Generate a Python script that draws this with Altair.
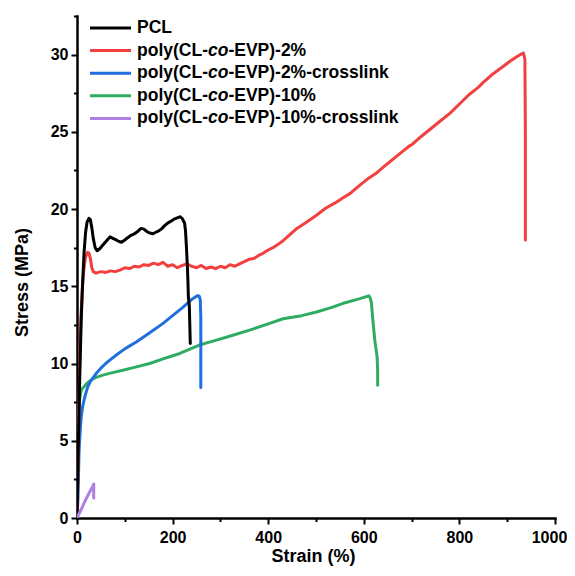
import altair as alt
import pandas as pd

# ---------------- data ----------------
pcl_strain = [0, 3, 6, 9, 12, 15, 18, 21, 25, 28, 31, 34, 38, 42, 48, 55, 62, 69, 75, 82, 88, 93,
              100, 106, 113, 120, 127, 134, 140, 146, 152, 159, 165, 172, 178, 184, 190, 196, 203,
              211, 216, 220, 225, 227, 229, 231, 232, 233, 234, 235, 236, 237]
pcl_stress = [0, 5, 9.5, 13, 15.4, 17.3, 18.5, 19.15, 19.4, 19.3, 18.8, 18.1, 17.5, 17.3, 17.45,
              17.7, 17.95, 18.2, 18.1, 18.0, 17.9, 17.85, 18.0, 18.15, 18.3, 18.4, 18.55, 18.75,
              18.7, 18.55, 18.45, 18.4, 18.5, 18.6, 18.75, 18.95, 19.1, 19.2, 19.35, 19.45, 19.5,
              19.4, 19.1, 18.6, 17.5, 16.2, 15.4, 14.3, 14.0, 13.7, 12.5, 11.3]

cl2_strain = [0, 2, 4, 6, 8, 11, 14, 18, 22, 25, 28, 31, 34, 40, 50, 60, 70, 80, 90, 100, 110,
              120, 130, 140, 150, 160, 170, 180, 190, 200, 210, 220, 230, 240, 250, 260, 270,
              280, 290, 300, 310, 320, 330, 340, 350, 360, 370, 380, 390, 400, 410, 420, 431,
              440, 460, 480, 501, 520, 540, 560, 571, 590, 610, 625, 640, 660, 680, 696, 700,
              720, 740, 760, 780, 800, 820, 840, 850, 870, 890, 905, 920, 930, 934, 937, 938, 938]
cl2_stress = [0, 3, 7, 10.5, 12.8, 14.8, 16.0, 16.9, 17.2, 17.15, 16.8, 16.2, 15.95, 15.85,
              15.95, 15.9, 16.0, 15.95, 16.05, 16.2, 16.15, 16.3, 16.25, 16.4, 16.35, 16.5,
              16.4, 16.55, 16.3, 16.4, 16.2, 16.35, 16.45, 16.3, 16.2, 16.35, 16.15, 16.25,
              16.15, 16.3, 16.2, 16.4, 16.3, 16.45, 16.6, 16.75, 16.8, 17.0, 17.15, 17.35,
              17.5, 17.7, 17.95, 18.2, 18.75, 19.15, 19.6, 20.05, 20.4, 20.8, 21.0, 21.5, 22.0,
              22.3, 22.7, 23.2, 23.7, 24.1, 24.15, 24.7, 25.2, 25.7, 26.2, 26.8, 27.4, 27.9,
              28.2, 28.75, 29.2, 29.55, 29.86, 30.05, 30.1, 29.7, 25.0, 18.0]

cl2x_strain = [0, 2, 3, 4, 5, 7, 9, 12, 16, 22, 28, 33, 40, 50, 60, 68, 80, 100, 124, 150, 180,
               200, 222, 242, 250, 253, 256, 258, 259, 259]
cl2x_stress = [0, 1.2, 2.5, 4.0, 4.8, 5.8, 6.6, 7.25, 7.8, 8.45, 8.85, 9.05, 9.35, 9.7, 10.0,
               10.2, 10.5, 10.95, 11.4, 11.95, 12.6, 13.1, 13.65, 14.2, 14.35, 14.4, 14.35,
               14.1, 13.0, 8.45]

cl10_strain = [0, 1, 2, 3, 4, 6, 9, 13, 16, 20, 26, 33, 40, 54, 70, 96, 120, 152, 180, 215,
               256, 290, 326, 361, 403, 431, 470, 501, 530, 557, 592, 605, 611, 614, 616, 619,
               623, 628, 629, 629]
cl10_stress = [0, 2.0, 4.6, 6.0, 7.0, 7.8, 8.27, 8.45, 8.55, 8.7, 8.85, 9.0, 9.1, 9.25, 9.38,
               9.57, 9.75, 10.0, 10.3, 10.65, 11.2, 11.5, 11.83, 12.16, 12.6, 12.9, 13.1,
               13.34, 13.6, 13.9, 14.2, 14.33, 14.38, 14.2, 13.9, 12.8, 11.5, 10.4, 9.5, 8.6]

cl10x_strain = [0, 8, 16, 25, 34, 35, 35]
cl10x_stress = [0, 0.5, 1.04, 1.6, 2.1, 2.2, 1.3]

series_names = ["PCL", "poly(CL-co-EVP)-2%", "poly(CL-co-EVP)-2%-crosslink",
                "poly(CL-co-EVP)-10%", "poly(CL-co-EVP)-10%-crosslink"]
legend_tails = ["", "-EVP)-2%", "-EVP)-2%-crosslink", "-EVP)-10%", "-EVP)-10%-crosslink"]
series_colors = ["#000000", "#F23F3F", "#1F6FDF", "#2EAD62", "#B07FE4"]

x_ticks = [0, 100, 200, 300, 400, 500, 600, 700, 800, 900, 1000]
y_ticks = [0, 2.5, 5, 7.5, 10, 12.5, 15, 17.5, 20, 22.5, 25, 27.5, 30, 32.5]

FONT = "Liberation Sans"
W, H = 478, 502

all_series = [
    (pcl_strain, pcl_stress),
    (cl2_strain, cl2_stress),
    (cl2x_strain, cl2x_stress),
    (cl10_strain, cl10_stress),
    (cl10x_strain, cl10x_stress),
]

xscale = alt.Scale(domain=[0, 1000], nice=False)
yscale = alt.Scale(domain=[0, 32.5], nice=False)

x_axis = alt.Axis(
    values=x_ticks, title="Strain (%)", format="d", labelFlush=False,
    labelExpr="datum.value % 200 === 0 ? datum.label : ''",
    tickSize={"condition": {"test": "datum.value % 200 === 0", "value": 6}, "value": 3.5},
    labelOffset={"condition": {"test": "datum.value === 1000", "value": -6}, "value": 0},
    labelFontSize=16, labelPadding=5, labelFont=FONT, labelFontWeight="bold",
    titleFont=FONT, titleFontWeight="bold", titleFontSize=18,
    titleBaseline="middle", titleY=38, titleX=236,
)
y_axis = alt.Axis(
    values=y_ticks, title="Stress (MPa)", labelFlush=False,
    labelExpr="datum.value % 5 === 0 ? datum.label : ''",
    tickSize={"condition": {"test": "datum.value % 5 === 0", "value": 6}, "value": 3.5},
    labelFontSize=16, labelPadding=3, labelFont=FONT, labelFontWeight="bold",
    titleFont=FONT, titleFontWeight="bold", titleFontSize=18,
    titleBaseline="middle", titleX=-55, titleY=266, titleAngle=270,
)

layers = []
draw_order = [3, 2, 1, 0, 4]
for k in draw_order:
    sx, sy = all_series[k]
    df = pd.DataFrame({"strain": sx, "stress": sy, "i": list(range(len(sx)))})
    layers.append(
        alt.Chart(df).mark_line(color=series_colors[k], strokeWidth=3, strokeJoin="round",
                                strokeCap="round", clip=True)
        .encode(x=alt.X("strain:Q", scale=xscale, axis=x_axis),
                y=alt.Y("stress:Q", scale=yscale, axis=y_axis),
                order="i:Q")
    )

# ---------------- legend (manual, with italic "co") ----------------
AW = {"p": 611, "o": 611, "l": 278, "y": 556, "(": 333, ")": 333, "C": 722, "L": 611, "-": 333,
      "c": 556, "E": 667, "V": 667, "P": 667, "2": 556, "1": 556, "0": 556, "%": 889}
LFS = 17.5
def tw(s):
    return sum(AW.get(ch, 556) for ch in s) / 1000.0 * LFS

leg_x0, leg_x1, text_x = 13, 54, 60
row0, row_step = 12, 22.6
legend_src = pd.DataFrame({"d": [0]})
for j, name in enumerate(series_names):
    ry = row0 + j * row_step
    layers.append(
        alt.Chart(legend_src).mark_rule(color=series_colors[j], strokeWidth=3)
        .encode(x=alt.value(leg_x0), x2=alt.value(leg_x1), y=alt.value(ry))
    )
    common = dict(font=FONT, fontWeight="bold", fontSize=LFS, align="left",
                  baseline="middle", color="black")
    if j == 0:
        layers.append(alt.Chart(legend_src).mark_text(**common)
                      .encode(x=alt.value(text_x), y=alt.value(ry), text=alt.value(name)))
    else:
        p1, p2, p3 = "poly(CL-", "co", legend_tails[j]
        x2 = text_x + tw(p1)
        x3 = x2 + tw(p2)
        layers.append(alt.Chart(legend_src).mark_text(**common)
                      .encode(x=alt.value(text_x), y=alt.value(ry), text=alt.value(p1)))
        layers.append(alt.Chart(legend_src).mark_text(fontStyle="italic", **common)
                      .encode(x=alt.value(x2), y=alt.value(ry), text=alt.value(p2)))
        layers.append(alt.Chart(legend_src).mark_text(**common)
                      .encode(x=alt.value(x3), y=alt.value(ry), text=alt.value(p3)))

chart = alt.layer(*layers).properties(
    width=W, height=H,
    autosize=alt.AutoSizeParams(type="none"),
    padding={"left": 69, "top": 8, "right": 12, "bottom": 48},
).configure_view(stroke=None).configure_axis(
    grid=False, domainColor="black", domainWidth=2.5, tickColor="black", tickWidth=2,
    labelColor="black", titleColor="black", domainCap="square",
)

chart.save("out.html", embed_options={"renderer": "svg", "actions": False})
